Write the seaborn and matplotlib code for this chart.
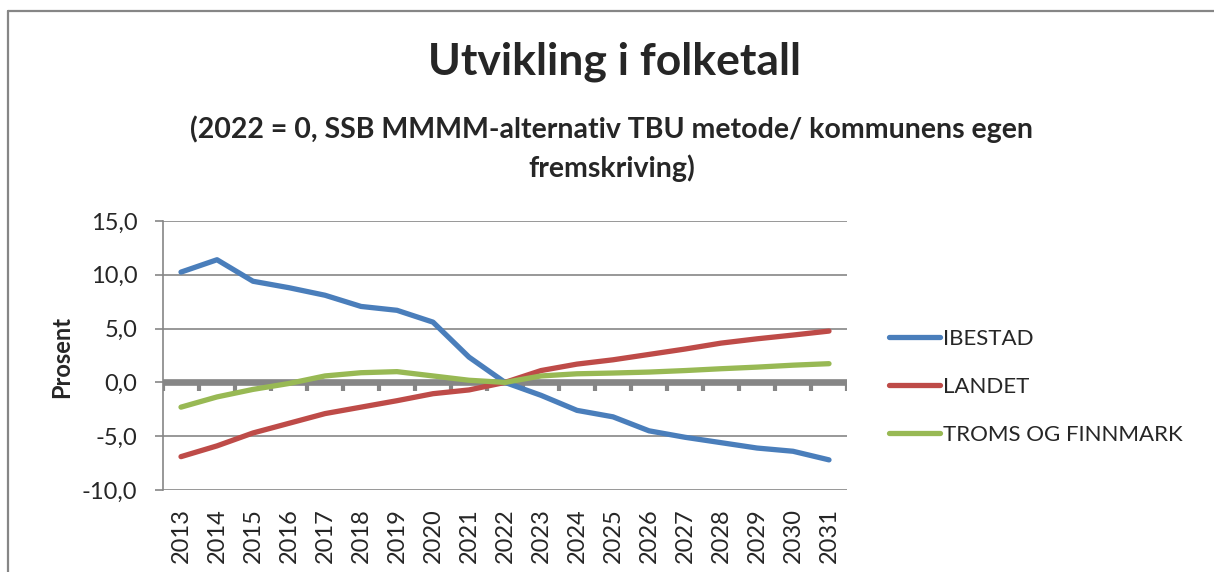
import numpy as np
import pandas as pd
import matplotlib
matplotlib.use("Agg")
import matplotlib.pyplot as plt
import seaborn as sns
from matplotlib.lines import Line2D

years = list(range(2013, 2032))
ibestad = [10.25, 11.4, 9.4, 8.8, 8.1, 7.06, 6.7, 5.6, 2.35, 0.0,
           -1.2, -2.6, -3.2, -4.5, -5.1, -5.6, -6.1, -6.4, -7.2]
landet = [-6.9, -5.9, -4.7, -3.8, -2.9, -2.3, -1.7, -1.05, -0.7, 0.0,
          1.1, 1.7, 2.1, 2.6, 3.1, 3.65, 4.05, 4.4, 4.77]
troms = [-2.3, -1.35, -0.65, -0.1, 0.6, 0.9, 1.0, 0.6, 0.2, 0.0,
         0.6, 0.8, 0.87, 0.96, 1.1, 1.27, 1.42, 1.6, 1.74]
series_names = ["IBESTAD", "LANDET", "TROMS OG FINNMARK"]
colors = ["#4A7EBB", "#BE4B48", "#98B954"]
yticks = [-10, -5, 0, 5, 10, 15]

df = pd.DataFrame({
    "År": years * 3,
    "Prosent": ibestad + landet + troms,
    "Serie": [n for n in series_names for _ in years],
})

sns.set_theme(style="white")
plt.rcParams["font.family"] = ["Lato", "DejaVu Sans"]

W, H = 1214, 572
fig = plt.figure(figsize=(W / 100, H / 100), dpi=100)
ax = fig.add_axes([163 / W, 1 - 490 / H, 684 / W, 269 / H])

grid_c = "#868686"
# zero line (category axis)
ax.axhline(0, color=grid_c, lw=4.8, zorder=1.5)
bounds = np.array(years) - 0.5
bounds = np.append(bounds, years[-1] + 0.5)
ax.vlines(bounds, -0.78, 0, color=grid_c, lw=3.0, zorder=1.5)

sns.lineplot(data=df, x="År", y="Prosent", hue="Serie", palette=colors,
             linewidth=3.8, ax=ax, legend=False, zorder=3,
             solid_capstyle="round")

ax.set_xlim(years[0] - 0.5, years[-1] + 0.5)
ax.set_ylim(-10, 15)
ax.set_yticks(yticks)
ax.set_yticklabels([f"{v:.1f}".replace(".", ",") for v in yticks], fontsize=17)
ax.yaxis.grid(True, color=grid_c, lw=1.2)
ax.set_axisbelow(True)
ax.set_xticks(years)
ax.set_xticklabels([str(y) for y in years], rotation=90, fontsize=17)
ax.tick_params(axis="x", length=0, pad=13)
ax.tick_params(axis="y", length=6, width=1.2, color=grid_c, left=True,
               direction="out", pad=12.5)
for s in ["top", "right", "bottom"]:
    ax.spines[s].set_visible(False)
ax.spines["left"].set_color(grid_c)
ax.spines["left"].set_linewidth(1.2)
ax.set_xlabel("")
ax.set_ylabel("Prosent", fontsize=17, fontweight="bold")
ax.yaxis.set_label_coords((73 - 163) / 684, (490 - 357) / 269)

handles = [Line2D([0], [0], color=c, lw=3.8, solid_capstyle="round") for c in colors]
leg = fig.legend(handles, series_names, loc="upper left",
                 bbox_to_anchor=(869 / W, 1 - 309 / H), frameon=False,
                 fontsize=16, handlelength=2.3, handletextpad=0.15,
                 labelspacing=1.25)

fig.text(614 / W, 1 - 62 / H, "Utvikling i folketall", ha="center", va="center",
         fontsize=32, fontweight="bold")
fig.text(612 / W, 1 - 149 / H,
         "(2022 = 0, SSB MMMM-alternativ TBU metode/ kommunens egen\nfremskriving)",
         ha="center", va="center", fontsize=20.5, fontweight="bold",
         linespacing=1.5)

# outer chart frame (left and top edges)
fig.add_artist(Line2D([8 / W, 8 / W], [0, 1 - 11 / H], color=grid_c, lw=1.6,
                      transform=fig.transFigure))
fig.add_artist(Line2D([8 / W, 1], [1 - 11 / H, 1 - 11 / H], color=grid_c, lw=1.6,
                      transform=fig.transFigure))

fig.savefig("out.png", dpi=100)
